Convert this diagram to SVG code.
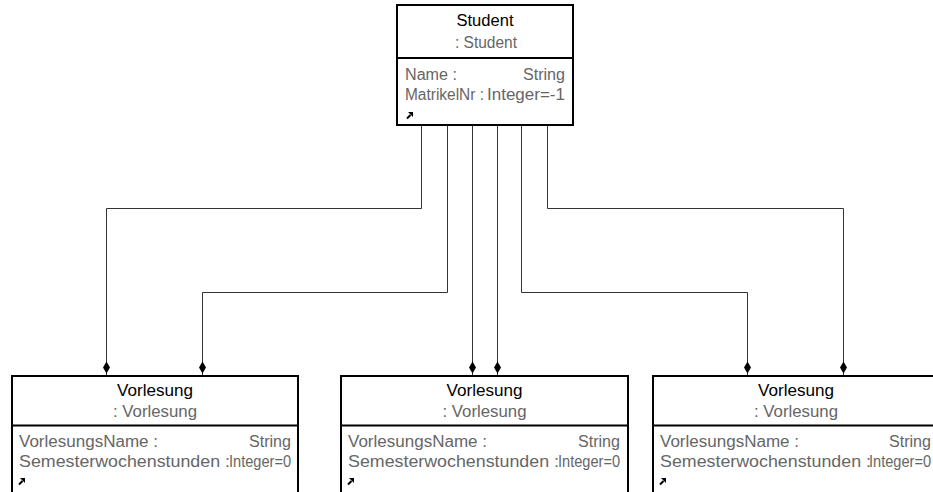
<svg xmlns="http://www.w3.org/2000/svg" xmlns:xlink="http://www.w3.org/1999/xlink" width="933" height="492" viewBox="0 0 933 492">
  <style>
    .box { fill: #ffffff; stroke: #000000; stroke-width: 2; }
    .sep { stroke: #000000; stroke-width: 2; }
    .title { font-family: "Liberation Sans", Arial, sans-serif; font-size: 16px; fill: #000000; }
    .sub { font-family: "Liberation Sans", Arial, sans-serif; font-size: 16px; fill: #666666; }
    .attr { font-family: "Liberation Sans", Arial, sans-serif; font-size: 16px; fill: #666666; }
    .wire { fill: none; stroke: #333333; stroke-width: 1; }
    .diamond { fill: #000000; stroke: none; }
  </style>
  <defs>
    <!-- small "show more" link arrow in the lower-left corner of each object -->
    <g id="link-icon">
      <path d="M7,0 L2,0 L7,5 Z" fill="#000000"/>
      <path d="M1,6.5 L4.5,3" stroke="#000000" stroke-width="2" fill="none"/>
    </g>
    <!-- filled composition diamond, centered on its own origin -->
    <path id="comp" class="diamond" d="M0,-6 L3.5,0 L0,6 L-3.5,0 Z"/>
  </defs>

  <!-- composition connectors from Student to the Vorlesung objects -->
  <g id="connectors">
    <path class="wire" d="M421.5,125 V208.5 H106.5 V375"/>
    <path class="wire" d="M447.5,125 V292.5 H202.5 V375"/>
    <path class="wire" d="M472.5,125 V375"/>
    <path class="wire" d="M497.5,125 V375"/>
    <path class="wire" d="M521.5,125 V292.5 H747.5 V375"/>
    <path class="wire" d="M547.5,125 V208.5 H843.5 V375"/>
    <use xlink:href="#comp" x="106.5" y="367.5"/>
    <use xlink:href="#comp" x="202.5" y="367.5"/>
    <use xlink:href="#comp" x="472.5" y="367.5"/>
    <use xlink:href="#comp" x="497.5" y="367.5"/>
    <use xlink:href="#comp" x="747.5" y="367.5"/>
    <use xlink:href="#comp" x="843.5" y="367.5"/>
  </g>

  <!-- Student object -->
  <g id="student">
    <rect class="box" x="397" y="5" width="176" height="120"/>
    <line class="sep" x1="397" y1="58" x2="573" y2="58"/>
    <text class="title" x="485" y="26" text-anchor="middle" textLength="57" lengthAdjust="spacingAndGlyphs">Student</text>
    <text class="sub" x="486" y="48" text-anchor="middle" textLength="62" lengthAdjust="spacingAndGlyphs">: Student</text>
    <text class="attr" x="405" y="80" textLength="52" lengthAdjust="spacingAndGlyphs">Name :</text>
    <text class="attr" x="523" y="80" textLength="42" lengthAdjust="spacingAndGlyphs">String</text>
    <text class="attr" x="405" y="99.5" textLength="79" lengthAdjust="spacingAndGlyphs">MatrikelNr :</text>
    <text class="attr" x="487" y="99.5" textLength="78" lengthAdjust="spacingAndGlyphs">Integer=-1</text>
    <use xlink:href="#link-icon" x="406" y="112"/>
  </g>

  <!-- Vorlesung object (left) -->
  <g id="vorlesung-1">
    <rect class="box" x="12" y="376" width="286" height="130"/>
    <line class="sep" x1="12" y1="425.5" x2="298" y2="425.5"/>
    <text class="title" x="155" y="396" text-anchor="middle" textLength="76" lengthAdjust="spacingAndGlyphs">Vorlesung</text>
    <text class="sub" x="155" y="417" text-anchor="middle" textLength="84" lengthAdjust="spacingAndGlyphs">: Vorlesung</text>
    <text class="attr" x="19" y="446.5" textLength="139" lengthAdjust="spacingAndGlyphs">VorlesungsName :</text>
    <text class="attr" x="249" y="446.5" textLength="42" lengthAdjust="spacingAndGlyphs">String</text>
    <text class="attr" x="19" y="466.5" textLength="211" lengthAdjust="spacingAndGlyphs">Semesterwochenstunden :</text>
    <text class="attr" x="229" y="466.5" textLength="62" lengthAdjust="spacingAndGlyphs">Integer=0</text>
    <use xlink:href="#link-icon" x="18" y="478"/>
  </g>

  <!-- Vorlesung object (middle) -->
  <g id="vorlesung-2">
    <rect class="box" x="341" y="376" width="287" height="130"/>
    <line class="sep" x1="341" y1="425.5" x2="628" y2="425.5"/>
    <text class="title" x="484.5" y="396" text-anchor="middle" textLength="76" lengthAdjust="spacingAndGlyphs">Vorlesung</text>
    <text class="sub" x="484.5" y="417" text-anchor="middle" textLength="84" lengthAdjust="spacingAndGlyphs">: Vorlesung</text>
    <text class="attr" x="348" y="446.5" textLength="139" lengthAdjust="spacingAndGlyphs">VorlesungsName :</text>
    <text class="attr" x="578" y="446.5" textLength="42" lengthAdjust="spacingAndGlyphs">String</text>
    <text class="attr" x="348" y="466.5" textLength="211" lengthAdjust="spacingAndGlyphs">Semesterwochenstunden :</text>
    <text class="attr" x="558" y="466.5" textLength="62" lengthAdjust="spacingAndGlyphs">Integer=0</text>
    <use xlink:href="#link-icon" x="347" y="478"/>
  </g>

  <!-- Vorlesung object (right, runs past the canvas edge) -->
  <g id="vorlesung-3">
    <rect class="box" x="653" y="376" width="288" height="130"/>
    <line class="sep" x1="653" y1="425.5" x2="941" y2="425.5"/>
    <text class="title" x="796" y="396" text-anchor="middle" textLength="76" lengthAdjust="spacingAndGlyphs">Vorlesung</text>
    <text class="sub" x="796" y="417" text-anchor="middle" textLength="84" lengthAdjust="spacingAndGlyphs">: Vorlesung</text>
    <text class="attr" x="660" y="446.5" textLength="139" lengthAdjust="spacingAndGlyphs">VorlesungsName :</text>
    <text class="attr" x="889" y="446.5" textLength="42" lengthAdjust="spacingAndGlyphs">String</text>
    <text class="attr" x="660" y="466.5" textLength="211" lengthAdjust="spacingAndGlyphs">Semesterwochenstunden :</text>
    <text class="attr" x="869" y="466.5" textLength="62" lengthAdjust="spacingAndGlyphs">Integer=0</text>
    <use xlink:href="#link-icon" x="659" y="478"/>
  </g>
</svg>
